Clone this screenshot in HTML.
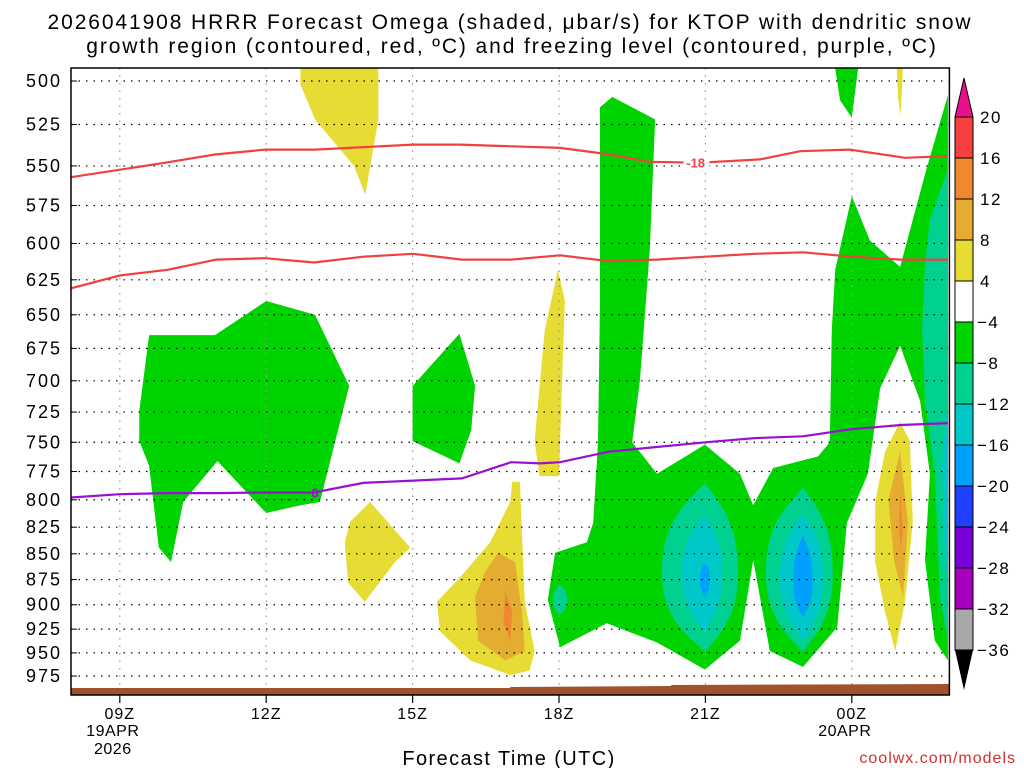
<!DOCTYPE html>
<html>
<head>
<meta charset="utf-8">
<style>
  html,body{margin:0;padding:0;background:#fff;}
  body{width:1024px;height:768px;overflow:hidden;font-family:"Liberation Sans","DejaVu Sans",sans-serif;}
  svg text{font-family:"Liberation Sans","DejaVu Sans",sans-serif;}
</style>
</head>
<body>
<svg id="chart" width="1024" height="768" viewBox="0 0 1024 768" xmlns="http://www.w3.org/2000/svg">
  <text x="510" y="29" font-size="21" letter-spacing="1.9" text-anchor="middle" fill="#000">2026041908 HRRR Forecast Omega (shaded, μbar/s) for KTOP with dendritic snow</text>
  <text x="512" y="53" font-size="21" letter-spacing="1.9" text-anchor="middle" fill="#000">growth region (contoured, red, ºC) and freezing level (contoured, purple, ºC)</text>
  <g id="fills"></g>
  <g id="grid"></g>
  <g id="lines"></g>
  <g id="axes"></g>
  <g id="cbar"></g>
  <text x="509" y="765" font-size="20" letter-spacing="1.4" text-anchor="middle" fill="#000">Forecast Time (UTC)</text>
  <text x="1016" y="763" font-size="16" text-anchor="end" fill="#d03030" letter-spacing="1">coolwx.com/models</text>
</svg>
<script>
// ---- data ----
const pressureTicks = [500,525,550,575,600,625,650,675,700,725,750,775,800,825,850,875,900,925,950,975];
const timeTicks = [9,12,15,18,21,24];
const timeTickLabels = ["09Z","12Z","15Z","18Z","21Z","00Z"];
const dateLabels = [[9,"19APR","2026"],[24,"20APR",""]];
const cbarLevels = [20,16,12,8,4,-4,-8,-12,-16,-20,-24,-28,-32,-36];
const cbarColors = ["#f84040","#f08830","#e4ac30","#e6dc34","#ffffff","#00d400","#00d090","#00c8c8","#00a0ff","#2040ff","#7a00d8","#a800c0","#a8a8a8"];

// omega regions [hour, pressure]
const greenMain = [[18.84,515],[19.09,509],[19.97,522],[19.86,604],[19.66,699],[19.5,750],[20.01,777],[20.99,752],[21.71,777],[21.98,805],[22.39,772],[23.31,762],[23.55,750],[23.59,661],[23.66,618],[24.0,569],[24.37,598],[24.99,616],[25.52,553],[25.97,508],[25.97,958],[25.7,937],[25.5,856],[25.6,777],[25.4,716],[24.99,673],[24.58,706],[24.33,777],[23.9,821],[23.7,923],[23.0,965],[22.32,948],[21.98,856],[21.71,937],[20.99,968],[20.01,939],[18.98,919],[18.02,944],[17.77,895],[17.92,849],[18.57,839],[18.7,821],[18.8,750],[18.84,639]];
const greenTop = [[23.66,493],[24.13,493],[24.0,521],[23.76,511]];
const greenLeft = [[9.6,665],[10.95,665],[12,640],[13,650],[13.7,704],[13.1,802],[12.7,805],[12,812],[11,766],[10.3,802],[10.05,858],[9.8,844],[9.6,770],[9.4,749],[9.4,724]];
const greenMid = [[15,704],[15.96,664],[16.28,704],[16.2,740],[15.96,768],[15,749]];
const tealRight = [[25.97,552],[25.6,584],[25.5,614],[25.44,661],[25.5,716],[25.7,777],[25.81,895],[25.97,937]];
const cyanRight = [[25.97,716],[25.85,767],[25.91,856],[25.97,875]];
// lobes: [centerHour, topP, bottomP, leftHour, rightHour, midP, level]
const lobes = [
  [20.99,785,949,20.11,21.67,868,"teal"],
  [20.99,814,928,20.52,21.34,868,"cyan"],
  [20.99,858,892,20.89,21.09,875,"blue"],
  [23.0,789,949,22.24,23.61,868,"teal"],
  [23.0,813,937,22.53,23.41,873,"cyan"],
  [23.0,833,913,22.8,23.2,877,"blue"],
  [18.02,880,910,17.87,18.17,895,"teal"]
];
const yellowTop = [[12.7,493],[14.3,493],[14.3,522],[14.03,568],[13.8,550],[13.0,522],[12.7,502]];
const yellow18 = [[17.98,618],[18.12,640],[18.05,716],[18.0,779],[17.6,779],[17.5,749],[17.71,661]];
const yellowLow = [[13.72,820],[14.13,802],[14.95,844],[14.64,858],[14.02,897],[13.68,878],[13.61,839]];
const yellow17 = [[17.04,784],[17.2,784],[17.24,830],[17.3,897],[17.5,948],[17.4,969],[17.0,974],[16.18,958],[15.56,927],[15.5,897],[15.97,873],[16.59,839],[17.0,802]];
const orange17 = [[16.75,849],[17.1,858],[17.24,907],[17.3,948],[16.9,958],[16.34,937],[16.28,892],[16.48,868]];
const red17 = [[16.9,887],[17.04,907],[17.0,937],[16.86,917]];
const yellow25 = [[24.99,733],[25.19,749],[25.25,820],[25.09,897],[24.89,948],[24.68,907],[24.48,858],[24.48,802],[24.68,758]];
const orange25 = [[24.99,758],[25.15,820],[25.05,892],[24.87,858],[24.75,800]];
const red25 = [[25.0,793],[25.04,830],[25.0,845],[24.97,820]];
const yellowSliver = [[24.92,493],[25.05,493],[25.0,520],[24.95,510]];

// temperature contours [hour, pressure]
const isoMinus18Upper = [[8,557],[9.93,548],[10.95,543],[11.98,540],[13,540],[15.01,537],[15.97,537],[18.02,539],[19.05,543],[19.86,547.5],[20.89,548],[22.12,546],[22.94,541],[23.96,540],[25.09,545],[25.97,544]];
const isoMinus12Lower = [[8,631],[9,622],[9.98,618],[10.98,611],[11.98,610],[12.98,613],[13.99,609],[15.01,607],[16.01,611],[17.02,611],[18.02,608],[19.02,612],[20.0,611],[21.0,609],[22.01,607],[23.0,606],[24.0,609],[25.01,611],[25.97,611]];
const freezingLine = [[8,798],[9,795],[9.98,794],[10.98,794],[11.98,793.5],[12.98,793.5],[13.99,785],[15.01,783],[16.01,781],[17.02,767],[17.61,768],[18.02,767],[19.02,758],[20.0,754],[21.0,750],[22.01,746.5],[23.0,745],[24.0,739],[25.01,735.6],[25.97,734]];

// ---- axes ----
const X = h => 71 + (h - 8) * 48.8;
const Y = p => 81 + 891 * Math.log(p / 500);
const NS = "http://www.w3.org/2000/svg";
const colorOf = {green:"#00d400",teal:"#00d090",cyan:"#00c8c8",blue:"#00a0ff",yellow:"#e6dc34",orange:"#e4ac30",red:"#f08830"};

function mk(tag, attrs, parent){
  const el = document.createElementNS(NS, tag);
  for (const k in attrs) el.setAttribute(k, attrs[k]);
  parent.appendChild(el);
  return el;
}
const fills = document.getElementById('fills');
function poly(pts, col, name){
  const el = mk('polygon', {points: pts.map(q => X(q[0]).toFixed(1)+','+Y(q[1]).toFixed(1)).join(' '), fill: colorOf[col]}, fills);
  
  
}
function lens(L, name){
  const tx=X(L[0]), ty=Y(L[1]), by=Y(L[2]), lx=X(L[3]), rx=X(L[4]), my=Y(L[5]);
  const d = `M${tx},${ty} C${tx-(tx-lx)*0.5},${ty+(my-ty)*0.25} ${lx},${my-(my-ty)*0.55} ${lx},${my}`+
    ` C${lx},${my+(by-my)*0.55} ${tx-(tx-lx)*0.5},${by-(by-my)*0.25} ${tx},${by}`+
    ` C${tx+(rx-tx)*0.5},${by-(by-my)*0.25} ${rx},${my+(by-my)*0.55} ${rx},${my}`+
    ` C${rx},${my-(my-ty)*0.55} ${tx+(rx-tx)*0.5},${ty+(my-ty)*0.25} ${tx},${ty} Z`;
  const el = mk('path', {d: d, fill: colorOf[L[6]]}, fills);
  
  
}
poly(greenMain,'green','omega-green-main');
poly(greenTop,'green','omega-green-top');
poly(greenLeft,'green','omega-green-left');
poly(greenMid,'green','omega-green-mid');
poly(tealRight,'teal','omega-teal-right');
poly(cyanRight,'cyan','omega-cyan-right');
lobes.forEach((L,i) => lens(L, 'omega-lobe-' + i));
poly(yellowTop,'yellow','omega-yellow-top');
poly(yellow18,'yellow','omega-yellow-18z');
poly(yellowLow,'yellow','omega-yellow-14z');
poly(yellow17,'yellow','omega-yellow-17z');
poly(orange17,'orange','omega-orange-17z');
poly(red17,'red','omega-red-17z');
poly(yellow25,'yellow','omega-yellow-01z');
poly(orange25,'orange','omega-orange-01z');
poly(red25,'red','omega-red-01z');
poly(yellowSliver,'yellow','omega-yellow-sliver');

// grid
const grid = document.getElementById('grid');
const xL = X(8), xR = X(26), yT = 68, yB = 695;
pressureTicks.forEach(p => {
  const l = mk('line', {x1:xL, x2:xR, y1:Y(p), y2:Y(p), stroke:'#000', 'stroke-width':1.2, 'stroke-dasharray':'1.5 6'}, grid);
  
  
});
timeTicks.forEach(h => {
  const l = mk('line', {x1:X(h), x2:X(h), y1:yT, y2:yB, stroke:'#999', 'stroke-width':1.2, 'stroke-dasharray':'1.5 6'}, grid);
  
  
});

// ground
const gr = mk('polygon', {points:`${xL},688 ${X(17.0)},688 ${X(17.0)},687 ${X(20.3)},686 ${X(20.3)},685 ${xR},684 ${xR},695 ${xL},695`, fill:'#a0522d'}, grid);



// contour lines
const lines = document.getElementById('lines');
function pl(pts, col, name){
  const el = mk('polyline', {points: pts.map(q => X(q[0]).toFixed(1)+','+Y(q[1]).toFixed(1)).join(' '), fill:'none', stroke:col, 'stroke-width':2.2}, lines);
  
  
}
pl(isoMinus18Upper, '#f04040', 'isotherm-minus18-upper');
pl(isoMinus12Lower, '#f04040', 'isotherm-minus12-lower');
pl(freezingLine, '#9a10d0', 'freezing-level-line');
const lb1 = mk('rect', {x:X(20.55), y:Y(548)-7, width:26, height:14, fill:'#fff'}, lines);


const t1 = mk('text', {x:X(20.8), y:Y(548)+5, 'font-size':13, 'font-weight':'bold', fill:'#f04040', 'text-anchor':'middle'}, lines);
t1.textContent = '-18';


const t2 = mk('text', {x:X(13.0), y:Y(793.5)+5, 'font-size':13, 'font-weight':'bold', fill:'#9a10d0', 'text-anchor':'middle'}, lines);
t2.textContent = '0';



// axes
const axes = document.getElementById('axes');
const fr = mk('rect', {x:xL, y:yT, width:xR-xL, height:yB-yT, fill:'none', stroke:'#000', 'stroke-width':1.5}, axes);


pressureTicks.forEach(p => {
  const t = mk('text', {x:62, y:Y(p)+6, 'font-size':18, 'letter-spacing':2, 'text-anchor':'end', fill:'#000'}, axes);
  t.textContent = p;
  
  
  const tk = mk('line', {x1:xL, x2:xL+6, y1:Y(p), y2:Y(p), stroke:'#000', 'stroke-width':1}, axes);
  
  
});
timeTicks.forEach((h,i) => {
  const tk = mk('line', {x1:X(h), x2:X(h), y1:yB, y2:yB+8, stroke:'#000', 'stroke-width':1.2}, axes);
  
  
  const t = mk('text', {x:X(h), y:719, 'font-size':16, 'letter-spacing':1, 'text-anchor':'middle', fill:'#000'}, axes);
  t.textContent = timeTickLabels[i];
  
  
});
dateLabels.forEach(d => {
  const a = mk('text', {x:X(d[0])-7, y:736, 'font-size':16, 'letter-spacing':0.5, 'text-anchor':'middle', fill:'#000'}, axes);
  a.textContent = d[1];
  
  
  const b = mk('text', {x:X(d[0])-7, y:754, 'font-size':16, 'letter-spacing':0.5, 'text-anchor':'middle', fill:'#000'}, axes);
  b.textContent = d[2];
  
  
});

// colorbar
const cb = document.getElementById('cbar');
const cx0 = 955, cx1 = 973, cTop = 117, step = 41;
const tri1 = mk('polygon', {points:`${cx0},${cTop} ${cx1},${cTop} ${(cx0+cx1)/2},78`, fill:'#e8108c', stroke:'#000', 'stroke-width':1}, cb);


cbarColors.forEach((c,i) => {
  const r = mk('rect', {x:cx0, y:cTop+i*step, width:cx1-cx0, height:step, fill:c, stroke:'#000', 'stroke-width':1}, cb);
  
  
});
const yEnd = cTop + cbarColors.length*step;
const tri2 = mk('polygon', {points:`${cx0},${yEnd} ${cx1},${yEnd} ${(cx0+cx1)/2},690`, fill:'#000'}, cb);


cbarLevels.forEach((v,i) => {
  const t = mk('text', {x:v<0?977:980, y:cTop+i*step+6, 'font-size':17, 'letter-spacing':1.5, fill:'#000'}, cb);
  t.textContent = v < 0 ? '\u2212' + Math.abs(v) : String(v);
  
  
});
</script>
</body>
</html>
